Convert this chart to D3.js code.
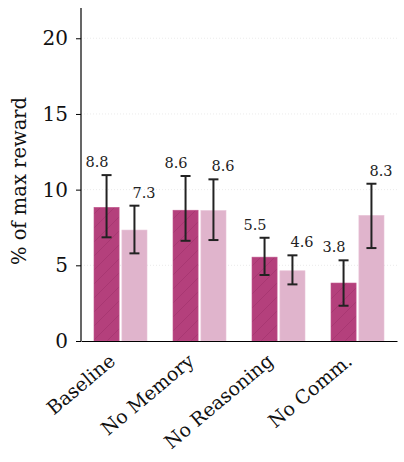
<!DOCTYPE html>
<html><head><meta charset="utf-8">
<script src="https://cdn.jsdelivr.net/npm/d3@7"></script>
<style>body{margin:0;background:#fff}svg{display:block}</style>
</head><body><div id="chart"></div>
<script>
const categories = ["Baseline", "No Memory", "No Reasoning", "No Comm."];
const seriesNames = ["dark", "light"];
const darkValues = [8.83, 8.64, 5.54, 3.83];
const darkLower = [6.85, 6.62, 4.36, 2.33];
const darkUpper = [10.96, 10.9, 6.82, 5.33];
const lightValues = [7.33, 8.62, 4.64, 8.3];
const lightLower = [5.79, 6.67, 3.74, 6.14];
const lightUpper = [8.94, 10.68, 5.66, 10.39];
const yTicks = [0, 5, 10, 15, 20];

const W = 404, H = 462;
const m = {left: 81, right: 7, top: 8, bottom: 121};
const svg = d3.select("#chart").append("svg").attr("width", W).attr("height", H);
const defs = svg.append("defs");
const pat = defs.append("pattern").attr("id", "hatch").attr("patternUnits", "userSpaceOnUse")
  .attr("width", 14).attr("height", 14);
pat.append("rect").attr("width", 14).attr("height", 14).attr("fill", "#b4407c");
pat.append("path").attr("d", "M-1,15 L15,-1 M-8,8 L8,-8 M6,22 L22,6")
  .attr("stroke", "#a43570").attr("stroke-width", 0.8);

const x = d3.scaleBand().domain(categories).range([m.left, W - m.right]).paddingInner(0).paddingOuter(0);
const x1 = d3.scaleBand().domain(seriesNames).range([0, 53]).paddingInner(0.1);
const y = d3.scaleLinear().domain([0, 22]).range([H - m.bottom, m.top]);

const font = "DejaVu Serif";

// grid
svg.append("g").selectAll("line").data(yTicks.filter(d => d > 0)).join("line")
  .attr("x1", m.left).attr("x2", W - m.right)
  .attr("y1", d => y(d)).attr("y2", d => y(d))
  .attr("stroke", "#ddd").attr("stroke-width", 0.6).attr("stroke-dasharray", "1,2");

const data = [];
categories.forEach((c, i) => {
  data.push({c, s: "dark", v: darkValues[i], lo: darkLower[i], hi: darkUpper[i]});
  data.push({c, s: "light", v: lightValues[i], lo: lightLower[i], hi: lightUpper[i]});
});
const bx = d => x(d.c) + x.bandwidth() / 2 - 26.5 + x1(d.s);

svg.append("g").selectAll("rect").data(data).join("rect")
  .attr("x", bx).attr("width", x1.bandwidth())
  .attr("y", d => y(d.v)).attr("height", d => y(0) - y(d.v))
  .attr("fill", d => d.s === "dark" ? "url(#hatch)" : "#e0b4cc")
  .attr("stroke", d => d.s === "dark" ? "#c0568c" : "#e8c4d8").attr("stroke-width", 0.6);

const eg = svg.append("g").attr("stroke", "#222").attr("stroke-width", 2);
data.forEach(d => {
  const cx = bx(d) + x1.bandwidth() / 2;
  eg.append("line").attr("x1", cx).attr("x2", cx).attr("y1", y(d.lo)).attr("y2", y(d.hi));
  eg.append("line").attr("x1", cx - 5).attr("x2", cx + 5).attr("y1", y(d.lo)).attr("y2", y(d.lo));
  eg.append("line").attr("x1", cx - 5).attr("x2", cx + 5).attr("y1", y(d.hi)).attr("y2", y(d.hi));
});

svg.append("g").selectAll("text").data(data).join("text")
  .attr("x", d => bx(d) + x1.bandwidth() / 2 + (d.s === "dark" ? -9.5 : 9.5))
  .attr("y", d => y(d.hi) - 8)
  .attr("text-anchor", "middle").attr("font-family", font).attr("font-size", 14.5).attr("fill", "#222")
  .text(d => d3.format(".1f")(Math.floor(d.v * 10 + 1e-9) / 10));

// axes
const ya = svg.append("g").attr("transform", `translate(${m.left},0)`)
  .call(d3.axisLeft(y).tickValues(yTicks).tickSize(5).tickPadding(8));
ya.select(".domain").attr("stroke", "#000").attr("stroke-width", 1.2).attr("d", `M0,${y(22)}V${y(0)}`);
ya.selectAll(".tick line").attr("stroke", "#000");
ya.selectAll(".tick text").attr("font-family", font).attr("font-size", 20).attr("fill", "#111");

const xa = svg.append("g").attr("transform", `translate(0,${y(0)})`)
  .call(d3.axisBottom(x).tickSize(0).tickPadding(0));
xa.select(".domain").attr("stroke", "#000").attr("stroke-width", 1.2);
xa.selectAll(".tick text").attr("font-family", font).attr("font-size", 19).attr("fill", "#111")
  .attr("text-anchor", "end").attr("y", 0).attr("dy", 0)
  .attr("transform", "translate(-4,22) rotate(-40)");

svg.append("text").attr("transform", `translate(25.5,181) rotate(-90)`)
  .attr("text-anchor", "middle").attr("font-family", font).attr("font-size", 19.5).attr("fill", "#111")
  .text("% of max reward");
</script></body></html>
